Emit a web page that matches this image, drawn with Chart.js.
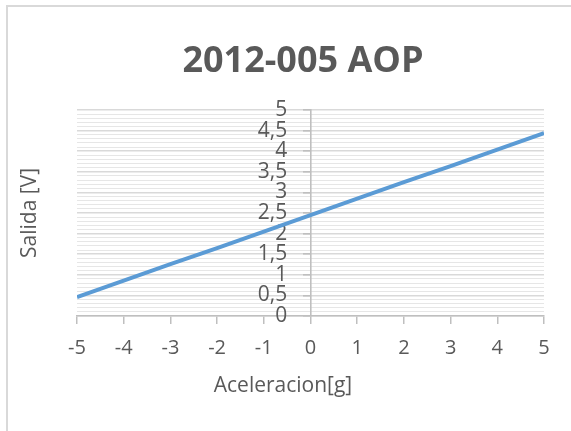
<!DOCTYPE html>
<html>
<head>
<meta charset="utf-8">
<script src="https://cdn.jsdelivr.net/npm/chart.js@4/dist/chart.umd.min.js"></script>
<style>
  html, body { margin: 0; padding: 0; background: #fff; overflow: hidden; }
  #wrap { position: relative; width: 571px; height: 431px; }
  #frame { position: absolute; left: 6px; top: 5px; width: 700px; height: 600px; border-top: 2px solid #d9d9d9; border-left: 2px solid #d9d9d9; box-sizing: border-box; pointer-events: none; }
  canvas { position: absolute; left: 0; top: 0; }
</style>
</head>
<body>
<div id="wrap">
  <canvas id="c" width="571" height="431"></canvas>
  <div id="frame"></div>
</div>
<script>
const chartTitle = '2012-005 AOP';
const xTitle = 'Aceleracion[g]';
const yTitle = 'Salida [V]';
const accel = [-5, -4, -3, -2, -1, 0, 1, 2, 3, 4, 5];
const output = [0.46, 0.86, 1.26, 1.65, 2.05, 2.45, 2.85, 3.25, 3.64, 4.04, 4.44];

const points = accel.map((x, i) => ({x: x, y: output[i]}));
const FONT = "'Open Sans', 'Liberation Sans', sans-serif";
const TXT = '#595959';

function isMajor(v) { return Math.abs(v * 2 - Math.round(v * 2)) < 1e-6; }

const titlesPlugin = {
  id: 'titles',
  afterDraw(chart) {
    const ctx = chart.ctx;
    ctx.save();
    ctx.fillStyle = TXT;
    ctx.textAlign = 'center';
    ctx.textBaseline = 'middle';
    ctx.font = "bold 36px " + FONT;
    ctx.fillText(chartTitle, 303, 62);
    ctx.font = "21px " + FONT;
    ctx.fillText(xTitle, 283, 386);
    ctx.translate(30, 213);
    ctx.rotate(-Math.PI / 2);
    ctx.fillText(yTitle, 0, 0);
    ctx.restore();
  }
};

new Chart(document.getElementById('c'), {
  type: 'scatter',
  data: {
    datasets: [{
      data: points,
      showLine: true,
      borderColor: '#5b9bd5',
      borderWidth: 4,
      pointRadius: 0,
      pointHoverRadius: 0,
      tension: 0
    }]
  },
  options: {
    responsive: false,
    animation: false,
    events: [],
    layout: { padding: { left: 77, right: 27, top: 110, bottom: 0 } },
    plugins: { legend: { display: false }, tooltip: { enabled: false }, title: { display: false } },
    scales: {
      x: {
        type: 'linear',
        position: 'bottom',
        min: -5, max: 5,
        afterFit(scale) { scale.height = 431 - 316; },
        ticks: { stepSize: 1, color: TXT, font: { family: FONT, size: 20 }, padding: 12, maxRotation: 0 },
        grid: { drawOnChartArea: false, drawTicks: true, tickLength: 8, color: '#bfbfbf', lineWidth: 1.5 },
        border: { display: true, color: '#bfbfbf', width: 1.5 }
      },
      y: {
        type: 'linear',
        position: { x: 0 },
        min: 0, max: 5,
        ticks: { stepSize: 0.1, autoSkip: false, display: false },
        grid: {
          drawTicks: true,
          tickLength: 7,
          color(ctx) { return isMajor(ctx.tick.value) ? '#d9d9d9' : '#e6e6e6'; },
          lineWidth(ctx) { return isMajor(ctx.tick.value) ? 1.6 : 1; },
          tickColor(ctx) { return isMajor(ctx.tick.value) ? '#bfbfbf' : 'rgba(0,0,0,0)'; }
        },
        border: { display: true, color: '#bfbfbf', width: 1.6 }
      },
      yLabels: {
        type: 'linear',
        axis: 'y',
        position: { x: -0.5 },
        min: 0, max: 5,
        ticks: {
          stepSize: 0.5,
          autoSkip: false,
          color: TXT,
          font: { family: FONT, size: 21 },
          callback(v) { return (Math.round(v * 10) / 10).toString().replace('.', ','); }
        },
        grid: { display: false, drawTicks: false },
        border: { display: false }
      }
    }
  },
  plugins: [titlesPlugin]
});
</script>
</body>
</html>
